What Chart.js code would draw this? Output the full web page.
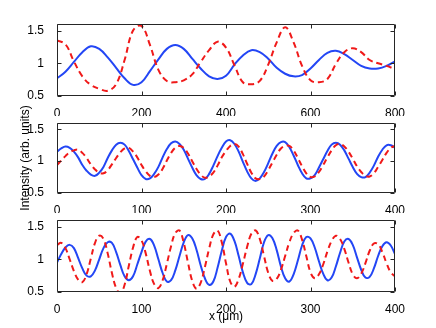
<!DOCTYPE html>
<html>
<head>
<meta charset="utf-8">
<script src="https://cdn.jsdelivr.net/npm/chart.js@4.4.0/dist/chart.umd.min.js"></script>
<style>
  html, body { margin: 0; padding: 0; background: #fff; }
  #wrap { position: relative; width: 436px; height: 328px; }
  canvas { position: absolute; left: 0; top: 0; }
</style>
</head>
<body>
<div id="wrap">
  <canvas id="chartTop" width="436" height="328"></canvas>
  <canvas id="chartMid" width="436" height="328"></canvas>
  <canvas id="chartBot" width="436" height="328"></canvas>
</div>
<script>
// ------------------------------------------- data -------------------------------------------
// top panel, x in um (step 20)
const xTop = [
    0, 20, 40, 60, 80, 100, 120, 140, 160, 180, 200, 220, 240, 260, 280, 300, 320, 340, 360, 380,
    400, 420, 440, 460, 480, 500, 520, 540, 560, 580, 600, 620, 640, 660, 680, 700, 720, 740, 760, 780, 800
];
const blueTop = [
    0.77, 0.87, 1.02, 1.17, 1.26, 1.22, 1.09, 0.93, 0.77, 0.67, 0.71, 0.88, 1.06, 1.22, 1.28, 1.22, 1.07, 0.92, 0.80, 0.76,
    0.81, 0.98, 1.12, 1.20, 1.17, 1.07, 0.93, 0.84, 0.80, 0.82, 0.92, 1.05, 1.16, 1.19, 1.14, 1.05, 0.96, 0.92, 0.92, 0.96, 1.03
];
const redTop = [
    1.35, 1.29, 1.03, 0.80, 0.67, 0.61, 0.58, 0.68, 1.05, 1.50, 1.57, 1.28, 0.90, 0.73, 0.71, 0.74, 0.83, 1.02, 1.20, 1.33,
    1.24, 0.97, 0.71, 0.68, 0.73, 0.98, 1.32, 1.55, 1.32, 0.96, 0.74, 0.71, 0.76, 0.99, 1.17, 1.23, 1.17, 1.05, 1.00, 0.96, 0.91
];

// middle and bottom panels, x in um (step 5)
const xFine = [
    0, 5, 10, 15, 20, 25, 30, 35, 40, 45, 50, 55, 60, 65, 70, 75, 80, 85, 90, 95,
    100, 105, 110, 115, 120, 125, 130, 135, 140, 145, 150, 155, 160, 165, 170, 175, 180, 185, 190, 195,
    200, 205, 210, 215, 220, 225, 230, 235, 240, 245, 250, 255, 260, 265, 270, 275, 280, 285, 290, 295,
    300, 305, 310, 315, 320, 325, 330, 335, 340, 345, 350, 355, 360, 365, 370, 375, 380, 385, 390, 395, 400
];
const blueMid = [
    1.15, 1.20, 1.23, 1.21, 1.15, 1.06, 0.94, 0.85, 0.79, 0.77, 0.82, 0.91, 1.05, 1.17, 1.26, 1.29, 1.26, 1.16, 1.03, 0.90,
    0.78, 0.72, 0.73, 0.80, 0.91, 1.06, 1.19, 1.28, 1.31, 1.27, 1.18, 1.04, 0.90, 0.78, 0.72, 0.72, 0.80, 0.93, 1.08, 1.21,
    1.31, 1.33, 1.27, 1.15, 0.99, 0.84, 0.73, 0.69, 0.73, 0.83, 0.97, 1.12, 1.24, 1.30, 1.30, 1.22, 1.09, 0.94, 0.81, 0.73,
    0.73, 0.78, 0.90, 1.03, 1.16, 1.26, 1.29, 1.26, 1.17, 1.04, 0.91, 0.80, 0.75, 0.75, 0.82, 0.93, 1.07, 1.18, 1.25, 1.25, 1.21
];
const redMid = [
    0.94, 1.01, 1.08, 1.14, 1.17, 1.18, 1.13, 1.05, 0.95, 0.87, 0.82, 0.81, 0.86, 0.95, 1.05, 1.14, 1.20, 1.21, 1.15, 1.06,
    0.94, 0.84, 0.77, 0.75, 0.79, 0.88, 1.01, 1.13, 1.21, 1.24, 1.21, 1.12, 1.00, 0.88, 0.79, 0.74, 0.76, 0.82, 0.93, 1.06,
    1.16, 1.24, 1.27, 1.23, 1.11, 0.96, 0.82, 0.73, 0.72, 0.76, 0.86, 0.98, 1.10, 1.20, 1.24, 1.24, 1.17, 1.05, 0.92, 0.81,
    0.75, 0.76, 0.83, 0.94, 1.06, 1.17, 1.25, 1.27, 1.23, 1.15, 1.04, 0.92, 0.83, 0.77, 0.76, 0.81, 0.91, 1.02, 1.13, 1.21, 1.24
];
const blueBot = [
    0.95, 1.08, 1.18, 1.22, 1.17, 1.02, 0.86, 0.75, 0.74, 0.83, 1.00, 1.17, 1.26, 1.25, 1.11, 0.91, 0.74, 0.68, 0.74, 0.92,
    1.11, 1.27, 1.31, 1.21, 1.00, 0.79, 0.66, 0.68, 0.83, 1.05, 1.26, 1.37, 1.32, 1.15, 0.91, 0.71, 0.61, 0.66, 0.87, 1.13,
    1.34, 1.39, 1.28, 1.05, 0.80, 0.64, 0.62, 0.77, 1.01, 1.26, 1.37, 1.32, 1.14, 0.89, 0.71, 0.66, 0.77, 0.98, 1.21, 1.34,
    1.32, 1.18, 0.97, 0.78, 0.68, 0.72, 0.89, 1.10, 1.27, 1.31, 1.22, 1.03, 0.84, 0.72, 0.73, 0.86, 1.05, 1.20, 1.26, 1.21, 1.08
];
const redBot = [
    1.22, 1.25, 1.17, 1.00, 0.82, 0.69, 0.65, 0.77, 1.01, 1.25, 1.36, 1.31, 1.09, 0.79, 0.56, 0.48, 0.61, 0.90, 1.18, 1.34,
    1.29, 1.09, 0.82, 0.62, 0.56, 0.68, 0.93, 1.20, 1.40, 1.44, 1.25, 0.95, 0.67, 0.55, 0.64, 0.88, 1.16, 1.38, 1.44, 1.26,
    0.94, 0.66, 0.58, 0.70, 0.93, 1.19, 1.39, 1.44, 1.31, 1.05, 0.79, 0.67, 0.70, 0.84, 1.05, 1.26, 1.40, 1.44, 1.30, 1.05,
    0.80, 0.71, 0.77, 0.92, 1.12, 1.28, 1.36, 1.31, 1.16, 0.95, 0.77, 0.71, 0.78, 0.94, 1.13, 1.24, 1.23, 1.11, 0.94, 0.80, 0.74
];

// tick labels
const xTicksTop = [0, 200, 400, 600, 800];
const xTicksFine = [0, 100, 200, 300, 400];
const yTicks = [0.5, 1, 1.5];

// ------------------------------------------- global options -------------------------------------------
Chart.defaults.font.family = "'Liberation Sans', Arial, sans-serif";
Chart.defaults.font.size = 12;
Chart.defaults.color = "#000";

const BLUE = "rgb(35, 70, 245)";
const RED = "rgb(240, 25, 25)";

// matlab style box with inward ticks on all four sides
const boxTicks = {
    id: "boxTicks",
    afterDatasetsDraw(chart) {
        const { ctx, chartArea: a } = chart;
        const sx = chart.scales.x, sy = chart.scales.y;
        const L = Math.round(a.left) + 0.5, R = Math.round(a.right) - 0.5;
        const T = Math.round(a.top) + 0.5, B = Math.round(a.bottom) - 0.5;
        ctx.save();
        ctx.strokeStyle = "#262626";
        ctx.lineWidth = 1;
        ctx.beginPath();
        ctx.rect(L, T, R - L, B - T);
        sx.ticks.forEach((t) => {
            const px = Math.round(sx.getPixelForValue(t.value)) + 0.5;
            ctx.moveTo(px, B); ctx.lineTo(px, B - 4);
            ctx.moveTo(px, T); ctx.lineTo(px, T + 4);
        });
        sy.ticks.forEach((t) => {
            const py = Math.round(sy.getPixelForValue(t.value)) + 0.5;
            ctx.moveTo(L, py); ctx.lineTo(L + 4, py);
            ctx.moveTo(R, py); ctx.lineTo(R - 4, py);
        });
        ctx.stroke();
        ctx.restore();
    },
};

function pts(xs, ys) {
    return xs.map((x, i) => ({ x: x, y: ys[i] }));
}

function makeConfig(xs, blue, red, xMax, xTicks, pad, xHeight, yTitle, xTitle) {
    return {
        type: "line",
        data: {
            datasets: [
                {
                    label: "red",
                    data: pts(xs, red),
                    borderColor: RED,
                    borderWidth: 2,
                    borderDash: [6, 4],
                    pointRadius: 0,
                    tension: 0.4,
                    order: 0,
                },
                {
                    label: "blue",
                    data: pts(xs, blue),
                    borderColor: BLUE,
                    borderWidth: 2,
                    pointRadius: 0,
                    tension: 0.4,
                    order: 1,
                },
            ],
        },
        options: {
            responsive: false,
            animation: false,
            layout: { padding: pad },
            scales: {
                x: {
                    type: "linear",
                    min: 0,
                    max: xMax,
                    afterBuildTicks: (s) => { s.ticks = xTicks.map((v) => ({ value: v })); },
                    afterFit: (s) => { s.height = xHeight; },
                    grid: { display: false },
                    border: { display: false },
                    ticks: { padding: 2, maxRotation: 0, callback: (v) => String(v) },
                    title: { display: !!xTitle, text: xTitle || "", padding: 0 },
                },
                y: {
                    min: 0.5,
                    max: 1.6,
                    afterBuildTicks: (s) => { s.ticks = yTicks.map((v) => ({ value: v })); },
                    afterFit: (s) => { s.width = 39; },
                    grid: { display: false },
                    border: { display: false },
                    ticks: { padding: 5, callback: (v) => String(v) },
                    title: { display: !!yTitle, text: yTitle || "", padding: 0 },
                },
            },
            plugins: {
                legend: { display: false },
                tooltip: { enabled: false },
            },
        },
        plugins: [boxTicks],
    };
}

//render
const chartTop = new Chart(
    document.getElementById("chartTop"),
    makeConfig(xTop, blueTop, redTop, 800, xTicksTop, { left: 18, right: 41, top: 24, bottom: 212 }, 20)
);
const chartMid = new Chart(
    document.getElementById("chartMid"),
    makeConfig(xFine, blueMid, redMid, 400, xTicksFine, { left: 18, right: 41, top: 123, bottom: 115 }, 20, "Intensity (arb. units)")
);
const chartBot = new Chart(
    document.getElementById("chartBot"),
    makeConfig(xFine, blueBot, redBot, 400, xTicksFine, { left: 18, right: 41, top: 220, bottom: 4 }, 32, null, "x (\u03bcm)")
);
</script>
</body>
</html>
